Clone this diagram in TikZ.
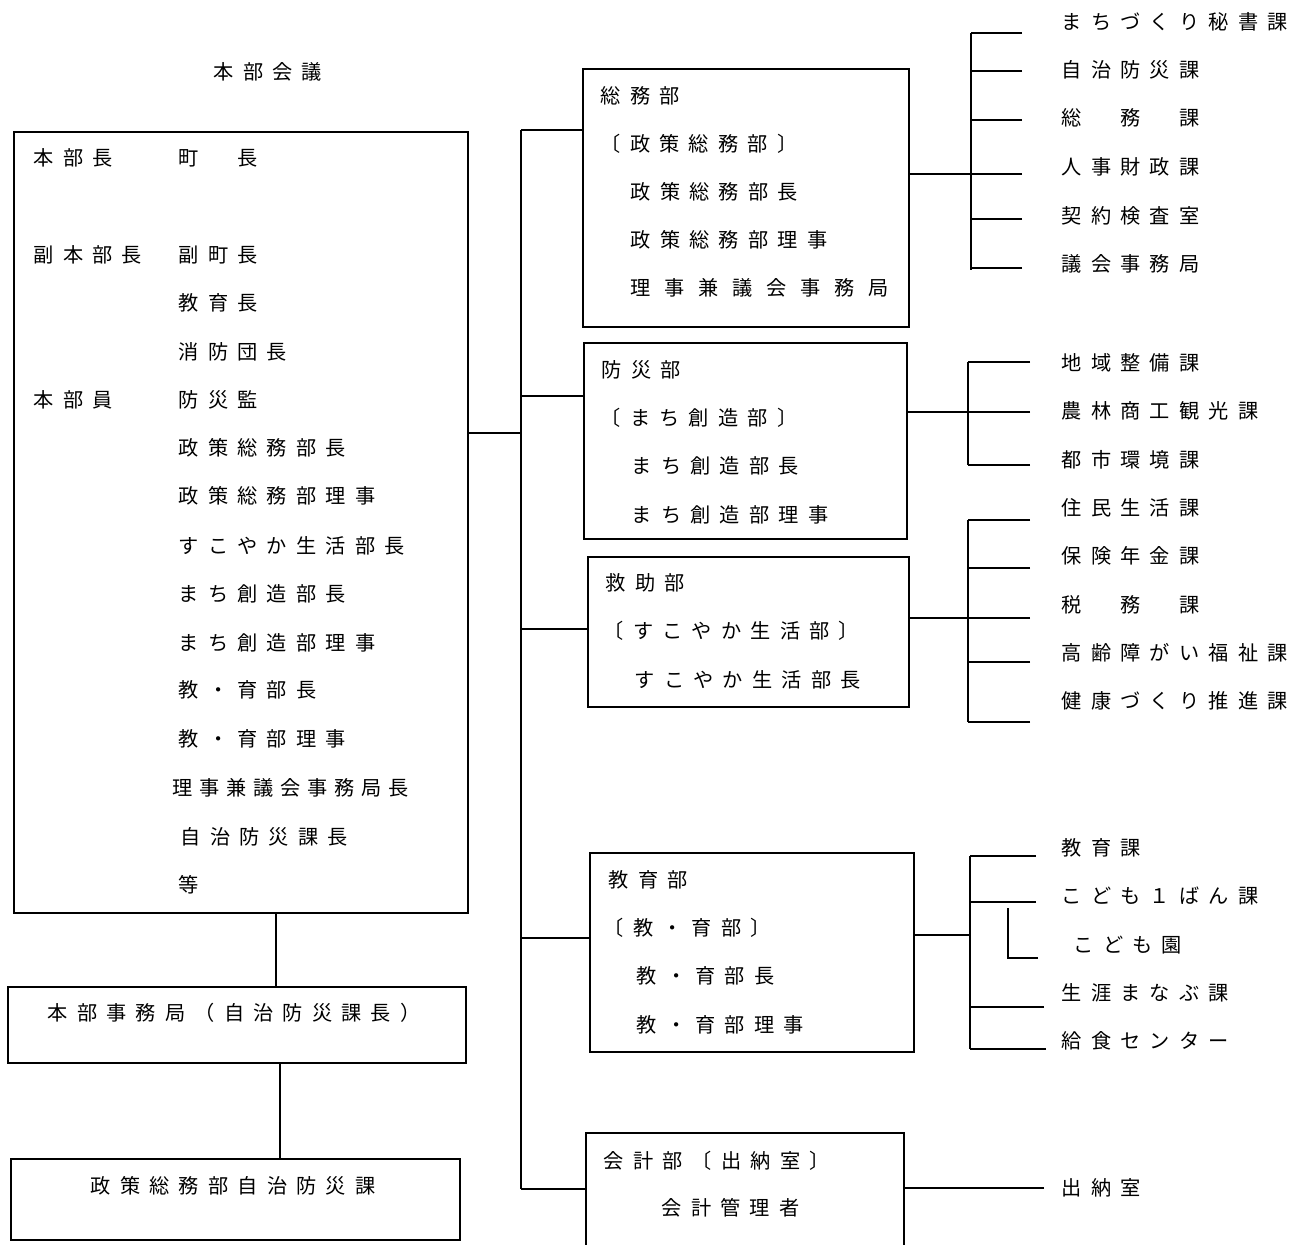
\documentclass[tikz,border=0pt]{standalone}
\usepackage{fontspec}
\setmainfont{Noto Sans CJK JP}
\usetikzlibrary{fit}

% letter-spaced Japanese text
\newcommand\spaced[2][5.2pt]{\def\spgap{#1}\expandafter\spacedloop#2\relax}
\def\spacedloop#1{\ifx#1\relax\else#1\hspace{\spgap}\expandafter\spacedloop\fi}

\begin{document}
\begin{tikzpicture}[x=0.02cm, y=-0.02cm, line width=1.1pt,
  box/.style={draw, inner sep=0pt},
  txt/.style={anchor=west, inner sep=0pt, font=\fontsize{11.5pt}{13pt}\selectfont,
    text height=0.8em, text depth=0.2em}]
  \useasboundingbox (0,0) rectangle (1301,1244);
  \clip (0,0) rectangle (1301,1244);

  % boxes
  \node[box, fit={(14,132) (468,913)}] (honbu) {};
  \node[box, fit={(8,987) (466,1063)}] (jimu) {};
  \node[box, fit={(11,1159) (460,1240)}] (bosaika) {};
  \node[box, fit={(583,69) (909,327)}] (somubu) {};
  \node[box, fit={(584,343) (907,539)}] (bosaibu) {};
  \node[box, fit={(588,557) (909,707)}] (kyujo) {};
  \node[box, fit={(590,853) (914,1052)}] (kyoiku) {};
  \node[box, fit={(586,1133) (904,1260)}] (kaikei) {};

  % headquarters meeting
  \node[txt] (title) at (213,74) {\spaced{本部会議}};
  \foreach \nm/\xx/\yy/\tx in {h1/33/160/本部長, h2/33/257/副本部長, h3/33/402/本部員,
      m1/178/160/町　長, m2/178/257/副町長, m3/178/305/教育長, m4/178/354/消防団長,
      m5/178/402/防災監, m6/178/450/政策総務部長, m7/178/498/政策総務部理事,
      m8/178/548/すこやか生活部長, m9/178/596/まち創造部長, m10/178/645/まち創造部理事,
      m11/178/692/教・育部長, m12/178/741/教・育部理事, m14/180/839/自治防災課長, m15/178/887/等}
    \node[txt] (\nm) at (\xx,\yy) {\spaced{\tx}};
  \node[txt] (m13) at (172,790) {\spaced[3.8pt]{理事兼議会事務局長}};
  \node[txt] (j1) at (47,1015) {\spaced{本部事務局（自治防災課長）}};
  \node[txt] (c1) at (90,1188) {\spaced{政策総務部自治防災課}};

  % departments
  \foreach \nm/\xx/\yy/\tx in {s1/600/98/総務部, s2/600/146/〔政策総務部〕, s3/630/194/政策総務部長,
      s4/630/242/政策総務部理事, p1/601/372/防災部, p2/600/420/〔まち創造部〕,
      p3/631/468/まち創造部長, p4/631/517/まち創造部理事, r1/605/585/救助部,
      r2/603/633/〔すこやか生活部〕, r3/634/682/すこやか生活部長, e1/608/882/教育部,
      e2/603/930/〔教・育部〕, e3/636/978/教・育部長, e4/636/1027/教・育部理事,
      a1/603/1163/会計部〔出納室〕, a2/661/1210/会計管理者}
    \node[txt] (\nm) at (\xx,\yy) {\spaced{\tx}};
  \node[txt] (s5) at (630,290) {\spaced[7.8pt]{理事兼議会事務局}};

  % sections
  \foreach \nm/\yy/\tx in {ka1/24/まちづくり秘書課, ka2/72/自治防災課, ka3/120/総　務　課,
      ka4/169/人事財政課, ka5/218/契約検査室, ka6/266/議会事務局, kb1/365/地域整備課,
      kb2/413/農林商工観光課, kb3/462/都市環境課, kc1/510/住民生活課, kc2/558/保険年金課,
      kc3/607/税　務　課, kc4/655/高齢障がい福祉課, kc5/703/健康づくり推進課,
      kd1/850/教育課, kd2/898/こども１ばん課, kd4/995/生涯まなぶ課, kd5/1043/給食センター,
      ke1/1190/出納室}
    \node[txt] (\nm) at (1061,\yy) {\spaced{\tx}};
  \node[txt] (kd3) at (1073,947) {\spaced{こども園}};

  % left column links
  \coordinate (v1) at (276,0);
  \coordinate (v2) at (280,0);
  \draw (honbu.south -| v1) -- (jimu.north -| v1);
  \draw (jimu.south -| v2) -- (bosaika.north -| v2);

  % main bus
  \coordinate (busT) at (521,130);
  \coordinate (busB) at (521,1189);
  \coordinate (b0) at (521,433);
  \coordinate (b2) at (521,396);
  \coordinate (b3) at (521,629);
  \coordinate (b4) at (521,938);
  \draw (busT) -- (busB);
  \draw (honbu.east |- b0) -- (b0);
  \draw (busT) -- (busT -| somubu.west);
  \draw (b2) -- (b2 -| bosaibu.west);
  \draw (b3) -- (b3 -| kyujo.west);
  \draw (b4) -- (b4 -| kyoiku.west);
  \draw (busB) -- (busB -| kaikei.west);

  % section buses
  \coordinate (sa1) at (971,33);  \coordinate (sa2) at (971,270); \coordinate (sa) at (971,174);
  \coordinate (sb1) at (968,362); \coordinate (sb2) at (968,465); \coordinate (sb) at (968,412);
  \coordinate (sc1) at (968,520); \coordinate (sc2) at (968,722); \coordinate (sc) at (968,618);
  \coordinate (sd1) at (970,856); \coordinate (sd2) at (970,1049); \coordinate (sd) at (970,935);
  \coordinate (se) at (1008,908);
  \draw (sa1) -- (sa2);
  \draw (sb1) -- (sb2);
  \draw (sc1) -- (sc2);
  \draw (sd1) -- (sd2);
  \draw (somubu.east |- sa) -- (sa);
  \draw (bosaibu.east |- sb) -- (sb);
  \draw (kyujo.east |- sc) -- (sc);
  \draw (kyoiku.east |- sd) -- (sd);

  \foreach \nm/\gp/\dy/\bus in {ka1/39/9/sa1, ka2/39/-1/sa1, ka3/39/0/sa1, ka4/39/5/sa1,
      ka5/39/1/sa1, ka6/39/2/sa1, kb1/31/-3/sb1, kb2/31/-1/sb1, kb3/31/3/sb1,
      kc1/31/10/sc1, kc2/31/10/sc1, kc3/31/11/sc1, kc4/31/7/sc1, kc5/31/19/sc1,
      kd1/25/6/sd1, kd2/25/4/sd1, kd4/17/12/sd1, kd5/15/6/sd1}
    \draw (\nm.west) ++(-\gp,\dy) coordinate (t) -- (t -| \bus);
  \draw (kd3.west) ++(-35,11) coordinate (t) -- (t -| se) -- (se);
  \draw (ke1.west) ++(-17,-2) coordinate (t) -- (t -| kaikei.east);
\end{tikzpicture}
\end{document}
